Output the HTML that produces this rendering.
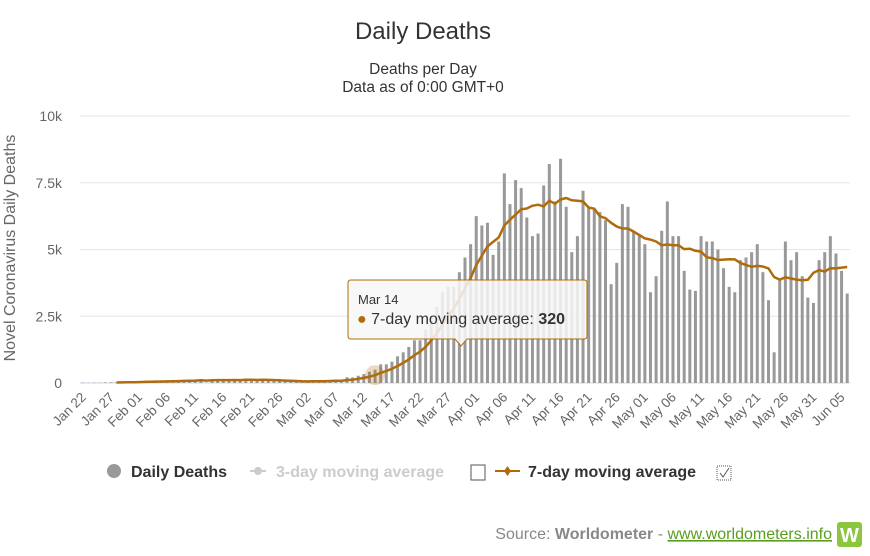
<!DOCTYPE html>
<html><head><meta charset="utf-8"><style>
body{margin:0;background:#fff;font-family:"Liberation Sans",sans-serif;}
svg text{font-family:"Liberation Sans",sans-serif;}
</style></head><body>
<svg id="chart" width="870" height="551" xmlns="http://www.w3.org/2000/svg">
<text x="423" y="39" text-anchor="middle" font-size="24" fill="#333">Daily Deaths</text>
<text x="423" y="74" text-anchor="middle" font-size="15.5" fill="#333">Deaths per Day</text>
<text x="423" y="92" text-anchor="middle" font-size="15.5" fill="#333">Data as of 0:00 GMT+0</text>
<text transform="translate(15,248) rotate(-90)" text-anchor="middle" font-size="16" fill="#666">Novel Coronavirus Daily Deaths</text>
<g id="grid"></g><g id="bars"></g><g id="line"></g><g id="xlabels"></g>
<g>
<g><circle cx="114" cy="471" r="7" fill="#999"/><text x="131" y="477" font-size="16" font-weight="bold" fill="#333">Daily Deaths</text></g>
<g><line x1="250" y1="471" x2="266" y2="471" stroke="#ccc" stroke-width="2"/><circle cx="258" cy="471" r="4" fill="#ccc"/><text x="276" y="477" font-size="16" font-weight="bold" fill="#ccc">3-day moving average</text></g>
<rect x="471" y="465" width="14" height="15" fill="#fff" stroke="#555"/>
<g><line x1="495" y1="471" x2="520" y2="471" stroke="#b06c0c" stroke-width="2"/><path d="M507.5 466 L511 471 L507.5 476 L504 471Z" fill="#b06c0c"/><text x="528" y="477" font-size="16" font-weight="bold" fill="#333">7-day moving average</text></g>
<rect x="717" y="466" width="14" height="14" fill="#fff" stroke="#555" stroke-dasharray="1,1"/>
<path d="M720 473 L723 477 L729 468" fill="none" stroke="#555"/>
</g>
<text x="832" y="539" text-anchor="end" font-size="16" fill="#888">Source: <tspan font-weight="bold">Worldometer</tspan> - <tspan fill="#5a9e1f" text-decoration="underline">www.worldometers.info</tspan></text>
<rect x="837" y="522" width="25" height="25" rx="3" fill="#8cc63f"/>
<text x="849.5" y="542" text-anchor="middle" font-size="20" font-weight="bold" fill="#fff">W</text>
<g id="tooltip"></g>
</svg>
<script>
const startDate = [2020, 0, 22];
const daily = [17,8,16,14,24,26,26,38,43,46,
45,57,64,65,73,73,86,89,97,108,97,150,13,144,142,105,98,139,115,125,111,99,158,77,63,72,59,44,55,
64,67,80,67,80,109,99,98,215,209,273,337,420,500,700,700,800,1000,1150,1350,1600,1600,2000,2500,2850,3400,3600,3600,4150,4700,
5200,6250,5900,6000,4800,5300,7850,6700,7600,7300,6200,5500,5600,7400,8200,6800,8400,6600,4900,5500,7200,6600,6500,
6400,6100,3700,4500,6700,6600,5700,
5500,5200,3400,4000,5700,6800,5500,5500,4200,3500,3450,5500,5300,5300,5000,4300,3600,3400,4600,4700,4900,5200,4150,3100,1150,3900,5300,4600,4900,4000,3200,
3000,4600,4900,5500,4850,4200,3350];
const yTicks = [0,2500,5000,7500,10000];
const yTickLabels = ["0","2.5k","5k","7.5k","10k"];
const labelEvery = 5;
const tooltipIndex = 52;

const svg = document.getElementById('chart');
const NS = 'http://www.w3.org/2000/svg';
const X0 = 80, X1 = 850, Y0 = 383, Y1 = 116, YMAX = 10000;
const n = daily.length;
const bw = (X1 - X0) / n;
function xScale(i){ return X0 + (i + 0.5) * bw; }
function yScale(v){ return Y0 - v / YMAX * (Y0 - Y1); }
const months = ["Jan","Feb","Mar","Apr","May","Jun","Jul"];
function dateLabel(i){ const d = new Date(startDate[0], startDate[1], startDate[2] + i); return months[d.getMonth()] + ' ' + String(d.getDate()).padStart(2,'0'); }

const grid = document.getElementById('grid');
yTicks.forEach((t, k) => {
  const l = document.createElementNS(NS,'line');
  l.setAttribute('x1', X0); l.setAttribute('x2', X1);
  l.setAttribute('y1', yScale(t)); l.setAttribute('y2', yScale(t));
  l.setAttribute('stroke', t === 0 ? '#ccd6eb' : '#e6e6e6');
  
  
  grid.appendChild(l);
  const tx = document.createElementNS(NS,'text');
  tx.setAttribute('x', 62); tx.setAttribute('y', yScale(t) + 5);
  tx.setAttribute('text-anchor','end'); tx.setAttribute('font-size','14'); tx.setAttribute('fill','#666');
  tx.textContent = yTickLabels[k];
  
  
  grid.appendChild(tx);
});

const bars = document.getElementById('bars');
daily.forEach((v, i) => {
  const r = document.createElementNS(NS,'rect');
  r.setAttribute('x', xScale(i) - 1.5); r.setAttribute('width', 3);
  r.setAttribute('y', yScale(v)); r.setAttribute('height', Y0 - yScale(v));
  r.setAttribute('fill', '#999');
  
  
  bars.appendChild(r);
});

const ma7 = daily.map((v, i) => { if (i < 6) return null; let s = 0; for (let k = i - 6; k <= i; k++) s += daily[k]; return s / 7; });
let d = '';
ma7.forEach((v, i) => { if (v === null) return; d += (d ? 'L' : 'M') + xScale(i).toFixed(1) + ' ' + yScale(v).toFixed(1); });
const lg = document.getElementById('line');
const p = document.createElementNS(NS,'path');
p.setAttribute('d', d); p.setAttribute('fill','none'); p.setAttribute('stroke','#b06c0c'); p.setAttribute('stroke-width','2.5');
p.setAttribute('stroke-linejoin','round');


lg.appendChild(p);
const halo = document.createElementNS(NS,'circle');
halo.setAttribute('cx', xScale(tooltipIndex)); halo.setAttribute('cy', yScale(ma7[tooltipIndex]));
halo.setAttribute('r', 10); halo.setAttribute('fill', 'rgba(176,108,12,0.25)');


lg.appendChild(halo);

const xl = document.getElementById('xlabels');
for (let i = 0; i < n; i += labelEvery) {
  const t = document.createElementNS(NS,'text');
  const x = xScale(i) + 4, y = 398;
  t.setAttribute('transform', `translate(${x},${y}) rotate(-45)`);
  t.setAttribute('text-anchor','end'); t.setAttribute('font-size','13.5'); t.setAttribute('fill','#666');
  t.textContent = dateLabel(i);
  
  
  xl.appendChild(t);
}

const tt = document.getElementById('tooltip');
const tx0 = 348, ty0 = 280, tw = 239, th = 59, px = 461;
const tp = document.createElementNS(NS,'path');
tp.setAttribute('d', `M${tx0+3} ${ty0} H${tx0+tw-3} Q${tx0+tw} ${ty0} ${tx0+tw} ${ty0+3} V${ty0+th-3} Q${tx0+tw} ${ty0+th} ${tx0+tw-3} ${ty0+th} H${px+6} L${px} ${ty0+th+7} L${px-6} ${ty0+th} H${tx0+3} Q${tx0} ${ty0+th} ${tx0} ${ty0+th-3} V${ty0+3} Q${tx0} ${ty0} ${tx0+3} ${ty0}Z`);
tp.setAttribute('fill','rgba(247,247,247,0.85)'); tp.setAttribute('stroke','#b06c0c');


tt.appendChild(tp);
const t1 = document.createElementNS(NS,'text');
t1.setAttribute('x', 358); t1.setAttribute('y', 304); t1.setAttribute('font-size','13'); t1.setAttribute('fill','#333');
t1.textContent = dateLabel(tooltipIndex).replace(' 0',' ');


tt.appendChild(t1);
const t2 = document.createElementNS(NS,'text');
t2.setAttribute('x', 357); t2.setAttribute('y', 324); t2.setAttribute('font-size','16'); t2.setAttribute('fill','#333');
t2.innerHTML = '<tspan fill="#b06c0c">●</tspan> 7-day moving average: <tspan font-weight="bold">320</tspan>';


tt.appendChild(t2);
</script>
</body></html>
